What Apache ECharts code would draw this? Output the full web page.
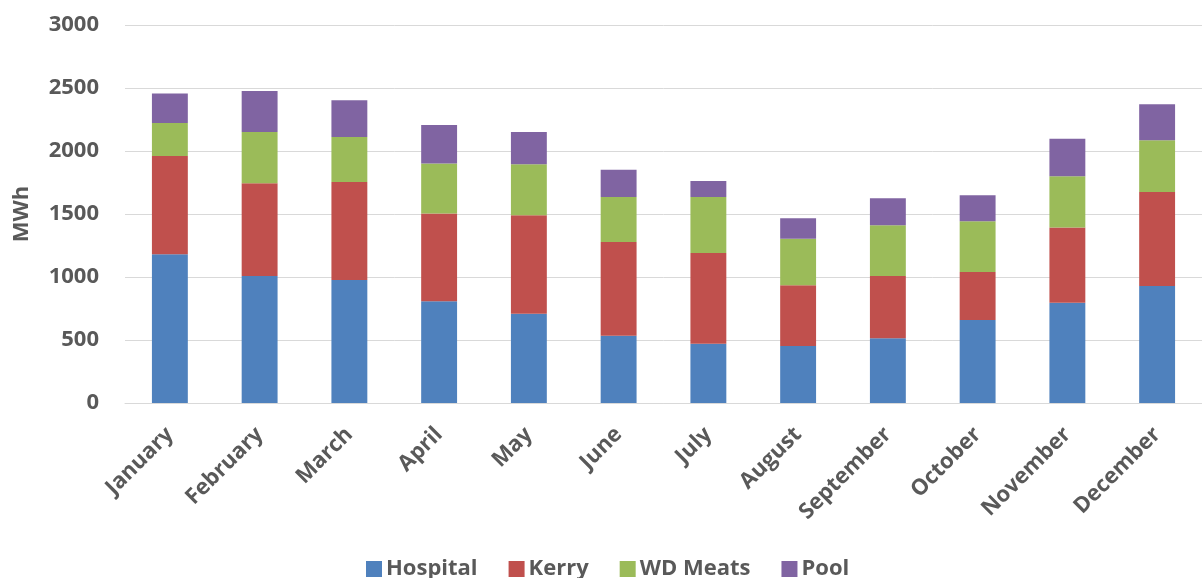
<!DOCTYPE html>
<html>
<head>
<meta charset="utf-8">
<script src="https://cdn.jsdelivr.net/npm/echarts@6/dist/echarts.min.js"></script>
<style>
  html, body { margin: 0; padding: 0; background: #ffffff; }
  #chart { width: 1202px; height: 578px; }
</style>
</head>
<body>
<div id="chart"></div>
<script>
// Monthly electricity use per site, stacked (MWh)
const months = ['January', 'February', 'March', 'April', 'May', 'June',
                'July', 'August', 'September', 'October', 'November', 'December'];
const hospital = [1180, 1008, 976, 807, 709, 534, 471, 452, 513, 659, 796, 929];
const kerry    = [780, 736, 778, 696, 781, 744, 719, 482, 495, 381, 596, 746];
const wdMeats  = [262, 407, 357, 397, 404, 357, 445, 370, 402, 402, 407, 410];
const pool     = [234, 325, 292, 306, 257, 217, 127, 162, 215, 206, 299, 286];
const yTicks   = [0, 500, 1000, 1500, 2000, 2500, 3000];

const FONT = '"Open Sans", "Noto Sans", sans-serif';
const TEXT = '#595959';

function stack(name, data, color) {
  return {
    name: name,
    type: 'bar',
    stack: 'total',
    barWidth: '40%',
    data: data,
    itemStyle: { color: color },
    emphasis: { disabled: true }
  };
}

const chart = echarts.init(document.getElementById('chart'), null, { renderer: 'canvas' });
chart.setOption({
  animation: false,
  backgroundColor: '#ffffff',
  grid: { left: 125, right: -10, top: 25, bottom: 175, containLabel: false },
  legend: {
    left: 361,
    top: 553,
    itemWidth: 16,
    itemHeight: 16,
    itemGap: 31,
    icon: 'rect',
    textStyle: { fontFamily: FONT, fontWeight: 'bold', fontSize: 22, color: TEXT, padding: [0, 0, 0, -1] },
    data: ['Hospital', 'Kerry', 'WD Meats', 'Pool']
  },
  xAxis: {
    type: 'category',
    data: months,
    axisLine: { show: true, lineStyle: { color: '#d9d9d9', width: 1 } },
    axisTick: { show: false },
    axisLabel: {
      rotate: 45,
      interval: 0,
      margin: 28,
      fontFamily: FONT,
      fontWeight: 'bold',
      fontSize: 22,
      color: TEXT
    }
  },
  yAxis: {
    type: 'value',
    min: yTicks[0],
    max: yTicks[yTicks.length - 1],
    interval: yTicks[1] - yTicks[0],
    name: 'MWh',
    nameLocation: 'middle',
    nameRotate: 90,
    nameGap: 92,
    nameTextStyle: { fontFamily: FONT, fontWeight: 'bold', fontSize: 22, color: TEXT },
    axisLine: { show: false },
    axisTick: { show: false },
    axisLabel: {
      margin: 26,
      fontFamily: FONT,
      fontWeight: 'bold',
      fontSize: 22,
      color: TEXT,
      formatter: function (v) { return String(v); }
    },
    splitLine: { lineStyle: { color: '#d9d9d9', width: 1 } }
  },
  series: [
    stack('Hospital', hospital, '#4f81bd'),
    stack('Kerry', kerry, '#c0504d'),
    stack('WD Meats', wdMeats, '#9bbb59'),
    stack('Pool', pool, '#8064a2')
  ]
});
</script>
</body>
</html>
